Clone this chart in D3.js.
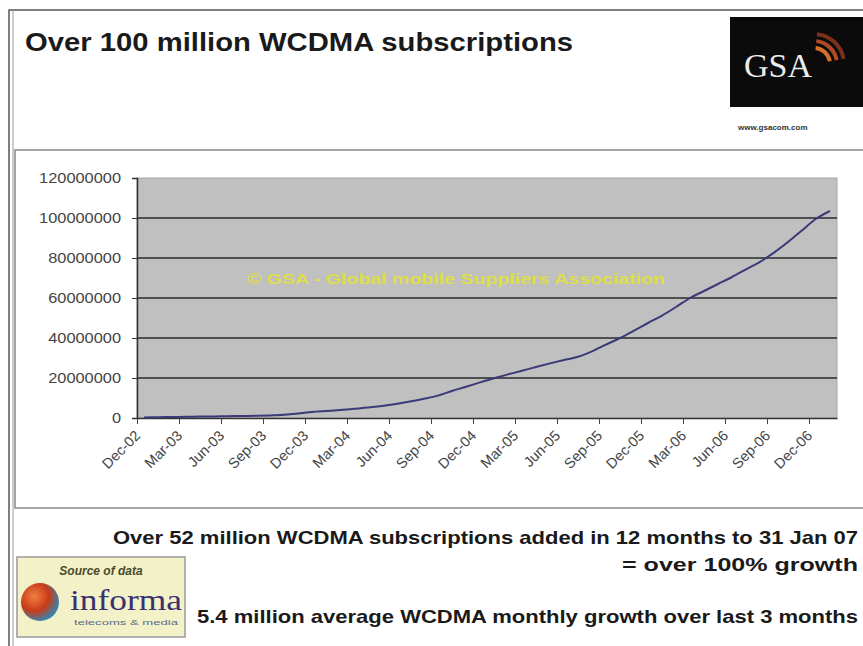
<!DOCTYPE html>
<html>
<head>
<meta charset="utf-8">
<script src="https://cdn.jsdelivr.net/npm/d3@7"></script>
<style>
  html, body { margin: 0; padding: 0; background: #fff; }
  svg { display: block; font-family: Arial, "Liberation Sans", sans-serif; }
</style>
</head>
<body>
<svg id="chart" width="863" height="646"></svg>
<script>
// ---- data ----
const months = [
  "Dec-02","Jan-03","Feb-03","Mar-03","Apr-03","May-03","Jun-03","Jul-03","Aug-03","Sep-03","Oct-03","Nov-03",
  "Dec-03","Jan-04","Feb-04","Mar-04","Apr-04","May-04","Jun-04","Jul-04","Aug-04","Sep-04","Oct-04","Nov-04",
  "Dec-04","Jan-05","Feb-05","Mar-05","Apr-05","May-05","Jun-05","Jul-05","Aug-05","Sep-05","Oct-05","Nov-05",
  "Dec-05","Jan-06","Feb-06","Mar-06","Apr-06","May-06","Jun-06","Jul-06","Aug-06","Sep-06","Oct-06","Nov-06",
  "Dec-06","Jan-07"
];
const subscriptions = [
  300000, 400000, 500000, 600000, 700000, 800000, 900000, 1000000, 1100000, 1300000, 1600000, 2200000,
  3000000, 3500000, 4000000, 4600000, 5200000, 6000000, 7000000, 8200000, 9600000, 11200000, 13500000, 15600000,
  17800000, 19900000, 21800000, 23600000, 25500000, 27300000, 29000000, 30600000, 33300000, 36700000, 40000000, 43700000,
  47500000, 51200000, 55500000, 60000000, 63500000, 67000000, 70500000, 74300000, 78100000, 82700000, 88000000, 93800000,
  99600000, 103500000
];
const xTickLabels = ["Dec-02","Mar-03","Jun-03","Sep-03","Dec-03","Mar-04","Jun-04","Sep-04","Dec-04",
  "Mar-05","Jun-05","Sep-05","Dec-05","Mar-06","Jun-06","Sep-06","Dec-06"];
const yTicks = [0, 20000000, 40000000, 60000000, 80000000, 100000000, 120000000];

const title = "Over 100 million WCDMA subscriptions";
const watermark = "\u00A9 GSA - Global mobile Suppliers Association";
const note1 = "Over 52 million WCDMA subscriptions added in 12 months to 31 Jan 07";
const note2 = "= over 100% growth";
const note3 = "5.4 million average WCDMA monthly growth over last 3 months";

// ---- layout ----
const svg = d3.select("#chart");
const plot = { left: 137, right: 837, top: 178, bottom: 418 };

// outer frame
svg.append("rect").attr("x", 9).attr("y", 10).attr("width", 870).attr("height", 660)
  .attr("fill", "#fff").attr("stroke", "#555").attr("stroke-width", 1.5);
svg.append("line").attr("x1", 13).attr("x2", 13).attr("y1", 10).attr("y2", 646)
  .attr("stroke", "#999").attr("stroke-width", 1);

// title
svg.append("text").attr("x", 25).attr("y", 51).text(title)
  .attr("font-size", 25).attr("font-weight", "bold").attr("fill", "#1a1a1a")
  .attr("textLength", 548).attr("lengthAdjust", "spacingAndGlyphs");

// GSA logo
const logo = svg.append("g");
logo.append("rect").attr("x", 730).attr("y", 17).attr("width", 140).attr("height", 90).attr("fill", "#0b0b0b");
logo.append("text").attr("x", 744).attr("y", 77).text("GSA")
  .attr("font-family", "'Liberation Serif', 'DejaVu Serif', serif").attr("font-size", 34)
  .attr("fill", "#ececec");
const arcColors = ["#d4702a", "#b04a22", "#7a301a"];
arcColors.forEach((c, i) => {
  const r = 14 + i * 7;
  logo.append("path")
    .attr("d", d3.arc()({ innerRadius: r, outerRadius: r + 4, startAngle: 0.1, endAngle: 1.4 }))
    .attr("transform", "translate(814,64)")
    .attr("fill", c);
});
svg.append("text").attr("x", 738).attr("y", 130).text("www.gsacom.com")
  .attr("font-size", 8).attr("font-weight", "bold").attr("fill", "#333");

// chart panel
svg.append("rect").attr("x", 15).attr("y", 150).attr("width", 860).attr("height", 358)
  .attr("fill", "#fff").attr("stroke", "#888").attr("stroke-width", 1.5);

// scales
const x = d3.scaleLinear().domain([0, months.length]).range([plot.left, plot.right]);
const y = d3.scaleLinear().domain([0, 120000000]).range([plot.bottom, plot.top]);

// plot background
svg.append("rect").attr("x", plot.left).attr("y", plot.top)
  .attr("width", plot.right - plot.left).attr("height", plot.bottom - plot.top)
  .attr("fill", "#c0c0c0").attr("stroke", "#a8a8a8").attr("stroke-width", 1);

// gridlines
svg.append("g").selectAll("line").data(yTicks.filter(d => d > 0 && d < 120000000)).join("line")
  .attr("x1", plot.left).attr("x2", plot.right)
  .attr("y1", d => y(d)).attr("y2", d => y(d))
  .attr("stroke", "#2a2a2a").attr("stroke-width", 1.5);

// watermark text
svg.append("text").attr("x", 456).attr("y", 284).text(watermark)
  .attr("text-anchor", "middle").attr("font-size", 14).attr("font-weight", "bold")
  .attr("fill", "#dede48").attr("textLength", 418).attr("lengthAdjust", "spacingAndGlyphs");

// y axis
const yAxis = d3.axisLeft(y).tickValues(yTicks).tickFormat(d3.format("d")).tickSize(5).tickPadding(11);
const gy = svg.append("g").attr("transform", `translate(${plot.left},0)`).call(yAxis);
gy.select(".domain").attr("stroke", "#333").attr("stroke-width", 1.5);
gy.selectAll(".tick line").attr("stroke", "#333");
gy.selectAll(".tick text").attr("font-size", 14).attr("fill", "#444")
  .attr("font-family", "Arial, 'Liberation Sans', sans-serif")
  .attr("textLength", d => 9.1 * String(d).length)
  .attr("lengthAdjust", "spacingAndGlyphs");

// x axis
const tickIdx = xTickLabels.map(l => months.indexOf(l));
const xAxis = d3.axisBottom(x).tickValues(tickIdx).tickFormat((d, i) => xTickLabels[i]).tickSize(6).tickSizeOuter(0);
const gx = svg.append("g").attr("transform", `translate(0,${plot.bottom})`).call(xAxis);
gx.select(".domain").attr("stroke", "#333").attr("stroke-width", 1.5);
gx.selectAll(".tick line").attr("stroke", "#444");
gx.selectAll(".tick text")
  .attr("font-size", 14.5).attr("fill", "#444")
  .attr("font-family", "Arial, 'Liberation Sans', sans-serif")
  .attr("text-anchor", "end")
  .attr("transform", "translate(0,15) rotate(-45)")
  .attr("dy", "0.35em").attr("y", 0).attr("x", 0);

// line
const line = d3.line().x((d, i) => x(i + 0.5)).y(d => y(d)).curve(d3.curveMonotoneX);
svg.append("path").datum(subscriptions).attr("d", line)
  .attr("fill", "none").attr("stroke", "#3a3a78").attr("stroke-width", 2);

// bottom notes
svg.append("text").attr("x", 858).attr("y", 544).text(note1).attr("text-anchor", "end")
  .attr("font-size", 19).attr("font-weight", "bold").attr("fill", "#1a1a1a")
  .attr("textLength", 745).attr("lengthAdjust", "spacingAndGlyphs");
svg.append("text").attr("x", 858).attr("y", 571).text(note2).attr("text-anchor", "end")
  .attr("font-size", 19).attr("font-weight", "bold").attr("fill", "#1a1a1a")
  .attr("textLength", 236).attr("lengthAdjust", "spacingAndGlyphs");
svg.append("text").attr("x", 858).attr("y", 623).text(note3).attr("text-anchor", "end")
  .attr("font-size", 19).attr("font-weight", "bold").attr("fill", "#1a1a1a")
  .attr("textLength", 661).attr("lengthAdjust", "spacingAndGlyphs");

// informa source box
const inf = svg.append("g");
inf.append("rect").attr("x", 17).attr("y", 557).attr("width", 168).attr("height", 80)
  .attr("fill", "#f3f1c8").attr("stroke", "#999").attr("stroke-width", 1.5);
inf.append("text").attr("x", 101).attr("y", 575).text("Source of data")
  .attr("text-anchor", "middle").attr("font-size", 12).attr("font-weight", "bold")
  .attr("font-style", "italic").attr("fill", "#4a4a2a");
const grad = svg.append("defs").append("radialGradient").attr("id", "ball")
  .attr("cx", "35%").attr("cy", "35%").attr("r", "70%");
grad.append("stop").attr("offset", "0%").attr("stop-color", "#f08040");
grad.append("stop").attr("offset", "55%").attr("stop-color", "#c83a1a");
grad.append("stop").attr("offset", "100%").attr("stop-color", "#2a8ab8");
inf.append("circle").attr("cx", 40).attr("cy", 602).attr("r", 19).attr("fill", "url(#ball)");
inf.append("text").attr("x", 70).attr("y", 610).text("informa")
  .attr("font-family", "'Liberation Serif', 'DejaVu Serif', serif").attr("font-size", 30)
  .attr("fill", "#3a3070").attr("textLength", 112).attr("lengthAdjust", "spacingAndGlyphs");
inf.append("text").attr("x", 74).attr("y", 625).text("telecoms & media")
  .attr("font-size", 8).attr("fill", "#5a6a8a").attr("textLength", 104).attr("lengthAdjust", "spacingAndGlyphs");
</script>
</body>
</html>
